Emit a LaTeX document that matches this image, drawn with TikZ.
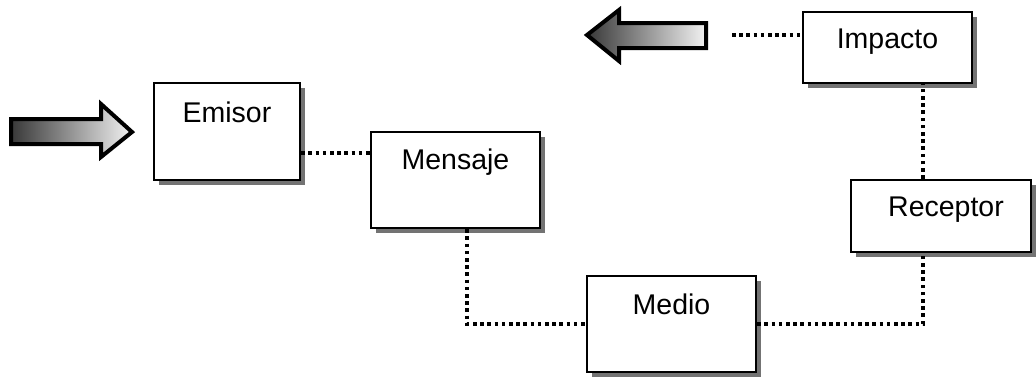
\documentclass[tikz,border=0pt]{standalone}
\usepackage{fontspec}
\setmainfont{Liberation Sans}
\usetikzlibrary{shadows,calc}
\begin{document}
\begin{tikzpicture}[x=1pt,y=1pt,
  box/.style={draw=black,line width=2.5pt,fill=white,
    drop shadow={shadow xshift=5pt,shadow yshift=-5pt,fill=black!55,opacity=1},
    inner sep=0pt},
  lbl/.style={font=\fontsize{28.5}{28.5}\selectfont,inner sep=0pt,anchor=center},
  dotline/.style={line width=3.6pt,dash pattern=on 3.6pt off 3.6pt},
  fatarrow/.style={draw=black,line width=4pt,line join=miter,left color=black!78,right color=black!5}
]
\useasboundingbox (0,0) rectangle (1036,-376);
% boxes
\node[box,minimum width=146pt,minimum height=97pt] (emisor) at (227,-131.5) {};
\node[box,minimum width=169pt,minimum height=96pt] (mensaje) at (455.5,-180) {};
\node[box,minimum width=169pt,minimum height=96pt] (medio) at (671.5,-324) {};
\node[box,minimum width=180pt,minimum height=72pt] (receptor) at (941,-216) {};
\node[box,minimum width=169pt,minimum height=71pt] (impacto) at (887.5,-47.5) {};
% labels
\node[lbl] (temisor) at ([yshift=-31pt]emisor.north) {Emisor};
\node[lbl] (tmensaje) at ([yshift=-31pt]mensaje.north) {Mensaje};
\node[lbl] (tmedio) at ([yshift=-30pt]medio.north) {Medio};
\node[lbl] (treceptor) at ([xshift=5pt,yshift=-31pt]receptor.north) {Receptor};
\node[lbl] (timpacto) at ([yshift=-31pt]impacto.north) {Impacto};
% connectors
\draw[dotline] ([yshift=-21.5pt]emisor.east) -- ([yshift=-21.5pt]emisor.east -| mensaje.west);
\draw[dotline] ([xshift=11.5pt]mensaje.south) |- (medio.west);
\draw[dotline] (medio.east) -| ([xshift=-18pt]receptor.south);
\draw[dotline] ([xshift=-18pt]receptor.north) -- ([xshift=-18pt]receptor.north |- impacto.south);
\coordinate (impend) at (732,-35);
\draw[dotline] (impend) -- (impend -| impacto.west);
% arrows
\path[fatarrow] (11,-119) -- (101,-119) -- (101,-104) -- (132,-132) -- (101,-157) -- (101,-144) -- (11,-144) -- cycle;
\path[fatarrow] (706,-23) -- (619,-23) -- (619,-10) -- (587,-35) -- (619,-61) -- (619,-48) -- (706,-48) -- cycle;
\end{tikzpicture}
\end{document}
